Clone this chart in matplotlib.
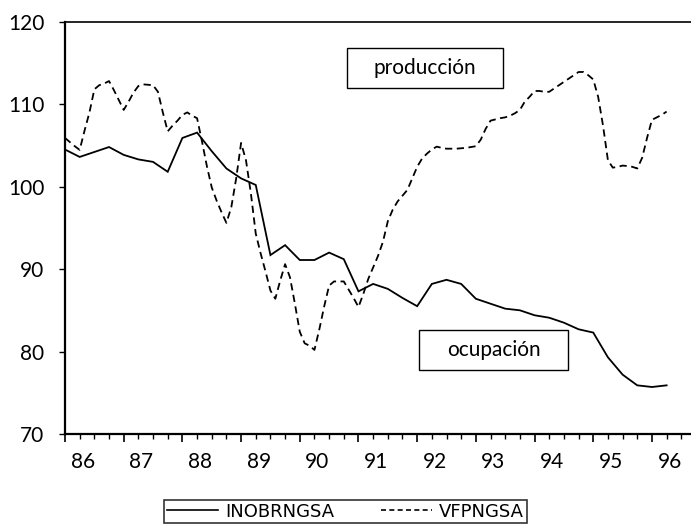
import matplotlib
matplotlib.use("Agg")
import matplotlib.pyplot as plt
from matplotlib.patches import Rectangle
from matplotlib.lines import Line2D
import numpy as np

plt.rcParams['font.family'] = ['Lato', 'DejaVu Sans']

# ocupacion (INOBRNGSA), quarterly 86Q1 - 96Q2
inobr = [104.5, 103.6, 104.2, 104.8, 103.85, 103.3, 103.0, 101.8, 105.9, 106.55,
         104.3, 102.2, 101.0, 100.2, 91.7, 92.9, 91.1, 91.1, 92.0, 91.2,
         87.3, 88.2, 87.6, 86.5, 85.5, 88.2, 88.7, 88.2, 86.4, 85.8,
         85.2, 85.0, 84.4, 84.1, 83.5, 82.7, 82.3, 79.3, 77.2, 75.9,
         75.7, 75.9]

# produccion (VFPNGSA), monthly 86M1 - 96M4
vfp = [105.9, 105.4, 104.9, 104.45, 106.8, 109.0, 111.8, 112.3, 112.5, 112.8,
       111.7, 110.5, 109.3, 110.3, 111.4, 112.2, 112.4, 112.35, 112.3, 111.5,
       109.0, 106.7, 107.4, 108.0, 108.7, 109.0, 108.6, 108.3, 105.5, 102.5,
       99.9, 98.3, 96.9, 95.6, 97.5, 101.0, 105.3, 103.2, 99.2, 94.3,
       91.9, 89.7, 87.4, 86.4, 88.6, 90.6, 89.0, 85.8, 82.4, 81.0,
       80.7, 80.2, 82.7, 85.5, 88.0, 88.5, 88.5, 88.5, 87.5, 86.5,
       85.4, 87.0, 88.8, 90.2, 91.6, 93.3, 95.8, 97.2, 98.2, 98.9,
       99.6, 101.0, 102.4, 103.4, 104.0, 104.5, 104.85, 104.7, 104.6, 104.6,
       104.6, 104.65, 104.7, 104.8, 104.9, 105.7, 107.0, 108.0, 108.15, 108.3,
       108.4, 108.6, 108.9, 109.3, 110.3, 110.9, 111.6, 111.6, 111.5, 111.5,
       111.9, 112.3, 112.7, 113.1, 113.5, 113.9, 113.9, 113.5, 113.0, 110.9,
       107.4, 103.2, 102.3, 102.4, 102.55, 102.5, 102.4, 102.2, 103.5, 105.9,
       108.1, 108.4, 108.7, 109.1]

years = list(range(86, 97))
yticks = [70, 80, 90, 100, 110, 120]

xq = 1986 + np.arange(len(inobr)) / 4.0
xm = 1986 + np.arange(len(vfp)) / 12.0

W, H = 691, 527
fig = plt.figure(figsize=(W / 100, H / 100), dpi=100)
ax = fig.add_axes([65 / W, 1 - 434 / H, (W - 65) / W, (434 - 21.7) / H])

ax.plot(xq, inobr, color='black', lw=1.3, solid_joinstyle='miter')
ax.plot(xm, vfp, color='black', lw=1.3, linestyle=(0, (4, 2.5)))

ax.set_xlim(1986, 1986 + (W - 66) / 58.6)
ax.set_ylim(70, 120)

ax.set_yticks(yticks)
ax.set_yticklabels([str(v) for v in yticks], fontsize=15)
ax.tick_params(axis='y', direction='out', length=4, width=1, pad=11)

ax.set_xticks([1986 + k for k in range(11)])
ax.set_xticklabels([])
ax.set_xticks(1986 + np.arange(0, 43) / 4.0, minor=True)
ax.tick_params(axis='x', which='major', direction='out', length=6, width=1.2)
ax.tick_params(axis='x', which='minor', direction='out', length=3.5, width=1)

for y in years:
    ax.text(1900 + y + 0.3, -0.068, str(y), transform=ax.get_xaxis_transform(),
            ha='center', va='center', fontsize=15)

ax.spines['right'].set_visible(False)
ax.spines['left'].set_linewidth(1.6)
ax.spines['bottom'].set_linewidth(1.6)
ax.spines['top'].set_linewidth(1.2)

# label boxes
fig.patches.append(Rectangle((347 / W, 1 - 88 / H), 156 / W, 40 / H,
                             transform=fig.transFigure, fill=False, ec='black', lw=1))
fig.text(425 / W, 1 - 68 / H, 'producción', ha='center', va='center', fontsize=15)
fig.patches.append(Rectangle((419 / W, 1 - 370 / H), 149 / W, 40 / H,
                             transform=fig.transFigure, fill=False, ec='black', lw=1))
fig.text(494 / W, 1 - 350 / H, 'ocupación', ha='center', va='center', fontsize=15)

handles = [Line2D([], [], color='black', lw=1.2),
           Line2D([], [], color='black', lw=1.2, linestyle=(0, (3, 2)))]
leg = fig.legend(handles, ['INOBRNGSA', 'VFPNGSA'], loc='upper center',
                 bbox_to_anchor=(0.5, 1 - 500 / H), ncol=2, frameon=True,
                 fancybox=False, edgecolor='black', handlelength=2.8,
                 handletextpad=0.4, columnspacing=2.6, borderpad=0.15,
                 borderaxespad=0,
                 prop={'family': ['Liberation Sans Narrow', 'DejaVu Sans'], 'size': 13})
leg.get_frame().set_linewidth(1.2)

fig.savefig('out.png', dpi=100)
